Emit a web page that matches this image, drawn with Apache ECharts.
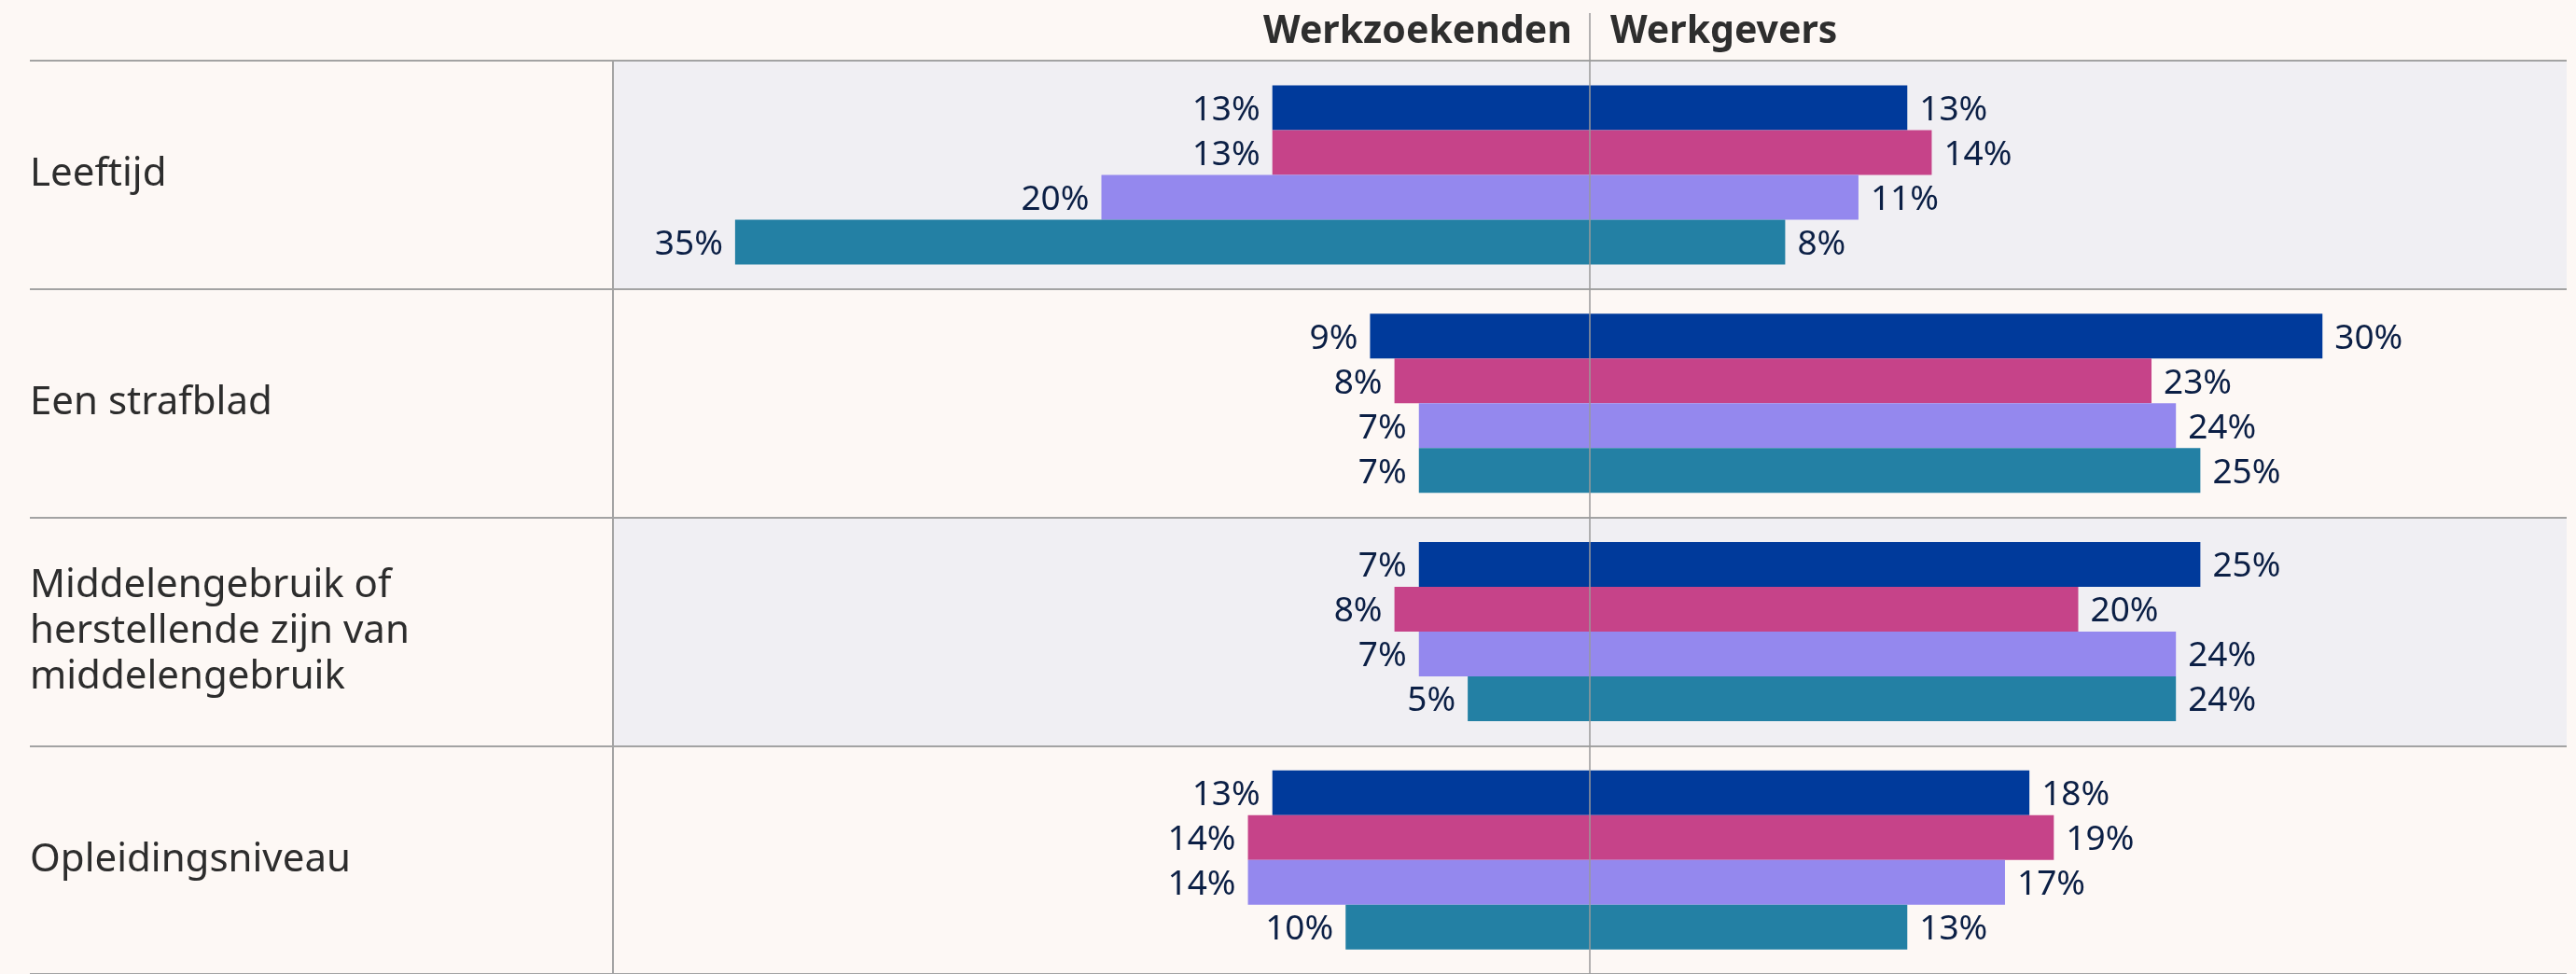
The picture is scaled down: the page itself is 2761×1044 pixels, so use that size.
<!DOCTYPE html>
<html>
<head>
<meta charset="utf-8">
<script src="https://cdn.jsdelivr.net/npm/echarts@6/dist/echarts.min.js"></script>
<style>
  html, body { margin: 0; padding: 0; background: #fdf8f5; }
  #chart { width: 2761px; height: 1044px; }
</style>
</head>
<body>
<div id="chart"></div>
<script>
// categorieën (rijen)
const categories = ['Leeftijd', 'Een strafblad', 'Middelengebruik of herstellende zijn van middelengebruik', 'Opleidingsniveau'];
const groupNames = ['Groep 1', 'Groep 2', 'Groep 3', 'Groep 4'];

// Werkzoekenden (links)
const zoekBlauw = [13, 9, 7, 13];
const zoekRoze = [13, 8, 8, 14];
const zoekPaars = [20, 7, 7, 14];
const zoekTeal = [35, 7, 5, 10];

// Werkgevers (rechts)
const geverBlauw = [13, 30, 25, 18];
const geverRoze = [14, 23, 20, 19];
const geverPaars = [11, 24, 24, 17];
const geverTeal = [8, 25, 24, 13];

const colors = ['#003a9b', '#c64389', '#9488ee', '#2380a4'];
const leftData = [zoekBlauw, zoekRoze, zoekPaars, zoekTeal];
const rightData = [geverBlauw, geverRoze, geverPaars, geverTeal];

const FONT = 'Noto Sans';
const lineColor = '#a3a3a3';

var myChart = echarts.init(document.getElementById('chart'));

let series = [];
for (let i = 0; i < 4; i++) {
  series.push({
    type: 'bar',
    name: groupNames[i],
    xAxisIndex: 1,
    yAxisIndex: 1,
    stack: 's' + i,
    barWidth: 48,
    barGap: '0%',
    data: leftData[i].map(v => -v),
    itemStyle: { color: colors[i] },
    label: {
      show: true,
      position: 'left',
      distance: 13,
      offset: [0, 3],
      fontFamily: FONT,
      fontSize: 37,
      color: '#0b1f45',
      formatter: p => Math.abs(p.value) + '%'
    }
  });
  series.push({
    type: 'bar',
    name: groupNames[i],
    xAxisIndex: 1,
    yAxisIndex: 1,
    stack: 's' + i,
    barWidth: 48,
    barGap: '0%',
    data: rightData[i],
    itemStyle: { color: colors[i] },
    label: {
      show: true,
      position: 'right',
      distance: 13,
      offset: [0, 3],
      fontFamily: FONT,
      fontSize: 37,
      color: '#0b1f45',
      formatter: p => p.value + '%'
    }
  });
}

var option = {
  backgroundColor: '#fdf8f5',
  animation: false,
  title: [
    {
      text: 'Werkzoekenden',
      right: 1076,
      top: 14,
      padding: 0,
      textStyle: { fontFamily: FONT, fontWeight: 'bold', fontSize: 41, color: '#2e2e2e' }
    },
    {
      text: 'Werkgevers',
      left: 1726,
      top: 14,
      padding: 0,
      textStyle: { fontFamily: FONT, fontWeight: 'bold', fontSize: 41, color: '#2e2e2e' }
    }
  ],
  grid: [
    { left: 32, width: 625, top: 65, bottom: 0 },   // labelkolom
    { left: 657, right: 10, top: 65, bottom: 0 }    // balken
  ],
  xAxis: [
    { gridIndex: 0, type: 'value', show: false, min: 0, max: 1 },
    { gridIndex: 1, type: 'value', show: false, min: -40, max: 40 }
  ],
  yAxis: [
    {
      gridIndex: 0,
      type: 'category',
      inverse: true,
      data: categories,
      axisLine: { show: false },
      axisTick: { show: false },
      splitLine: { show: true, lineStyle: { color: lineColor, width: 2 } },
      axisLabel: {
        inside: true,
        margin: 0,
        padding: [20, 0, 0, 0],
        fontFamily: FONT,
        fontSize: 42,
        lineHeight: 49,
        color: '#2d2d2d',
        width: 440,
        overflow: 'break'
      }
    },
    {
      gridIndex: 1,
      type: 'category',
      inverse: true,
      data: categories,
      axisLine: { show: true, onZero: false, lineStyle: { color: lineColor, width: 2 } },
      axisTick: { show: false },
      axisLabel: { show: false },
      splitLine: { show: true, lineStyle: { color: lineColor, width: 2 } },
      splitArea: { show: true, areaStyle: { color: ['#f0eff3', 'rgba(0,0,0,0)'] } }
    }
  ],
  series: series
};

myChart.setOption(option);

// middenlijn, loopt door tot in de kop
var cx = myChart.convertToPixel({ xAxisIndex: 1 }, 0);
myChart.setOption({
  graphic: [{
    type: 'line',
    z: 100,
    shape: { x1: cx, y1: 14, x2: cx, y2: 1044 },
    style: { stroke: '#9a9a9a', lineWidth: 1.5 }
  }]
});

window.addEventListener('resize', function () {
  myChart.resize();
});
</script>
</body>
</html>
